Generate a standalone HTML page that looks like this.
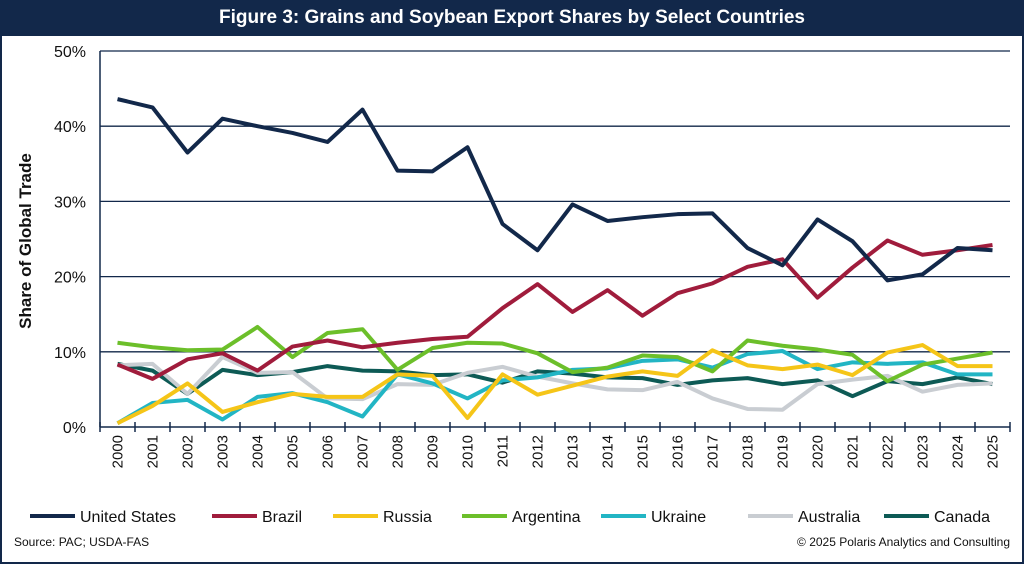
<!DOCTYPE html>
<html><head><meta charset="utf-8"><style>
body{margin:0;width:1024px;height:564px;overflow:hidden;background:#fff;font-family:"Liberation Sans",Arial,sans-serif}
#frame{position:absolute;left:0;top:0;width:1020px;height:560px;border:2px solid #12284a}
#title{position:absolute;left:0;top:0;width:1024px;height:36px;background:#12284a;color:#fff;font-weight:bold;font-size:19px;text-align:center;line-height:36px}
.foot{position:absolute;top:535px;font-size:12px;color:#111}
</style></head><body>
<div id="frame"></div>
<div id="title">Figure 3: Grains and Soybean Export Shares by Select Countries</div>
<svg id="chart" width="1024" height="564" style="position:absolute;left:0;top:0"></svg>
<div class="foot" style="left:14px">Source: PAC; USDA-FAS</div>
<div class="foot" style="right:14px">© 2025 Polaris Analytics and Consulting</div>
<script>
const years=[2000,2001,2002,2003,2004,2005,2006,2007,2008,2009,2010,2011,2012,2013,2014,2015,2016,2017,2018,2019,2020,2021,2022,2023,2024,2025];
const yTicks=[0,10,20,30,40,50];
const seriesNames=["United States","Brazil","Russia","Argentina","Ukraine","Australia","Canada"];
const seriesColors=["#12284a","#a01c3c","#f5c518","#6cbf2a","#22b5c4","#c9cdd2","#0d5a55"];
const usValues=[43.6,42.5,36.5,41,40,39.1,37.9,42.2,34.1,34,37.2,27,23.5,29.6,27.4,27.9,28.3,28.4,23.8,21.5,27.6,24.7,19.5,20.3,23.8,23.5];
const brazilValues=[8.3,6.4,9,9.8,7.5,10.7,11.5,10.6,11.2,11.7,12,15.8,19,15.3,18.2,14.8,17.8,19.1,21.3,22.3,17.2,21.2,24.8,22.9,23.5,24.2];
const russiaValues=[0.5,2.8,5.8,2,3.3,4.4,4,4,7,6.8,1.2,7,4.3,5.5,6.7,7.4,6.8,10.2,8.2,7.7,8.3,6.9,9.9,10.9,8.1,8.1];
const argentinaValues=[11.2,10.6,10.2,10.3,13.3,9.3,12.5,13,7.6,10.5,11.2,11.1,9.8,7.3,7.9,9.5,9.3,7.4,11.5,10.8,10.3,9.6,6.1,8.3,9.1,9.9];
const ukraineValues=[0.5,3.2,3.6,1,4,4.5,3.3,1.4,7,5.8,3.8,6.2,6.6,7.6,7.8,8.8,9.0,7.9,9.7,10.1,7.7,8.6,8.4,8.6,7.0,7.0];
const australiaValues=[8.2,8.4,4.4,9.3,7.2,7.3,3.8,3.7,5.7,5.6,7.2,8.0,6.7,5.8,5.0,4.9,6.0,3.8,2.4,2.3,5.7,6.3,6.8,4.7,5.6,5.8];
const canadaValues=[8.4,7.5,4.4,7.6,6.9,7.3,8.1,7.5,7.4,6.9,7.0,5.9,7.4,7.1,6.6,6.5,5.6,6.2,6.5,5.7,6.2,4.1,6.1,5.7,6.6,5.7];
const allSeries=[usValues,brazilValues,russiaValues,argentinaValues,ukraineValues,australiaValues,canadaValues];

const NS="http://www.w3.org/2000/svg";
const svg=document.getElementById('chart');
const L=100,R=1010,T=51,B=427;
const step=(R-L)/years.length;
const x=i=>L+step*(i+0.5);
const y=v=>B-(v/50)*(B-T);
function mk(tag,attrs){const e=document.createElementNS(NS,tag);for(const k in attrs)e.setAttribute(k,attrs[k]);svg.appendChild(e);return e;}
yTicks.forEach(t=>{
  if(t>0){const g=mk('line',{x1:L,x2:R,y1:y(t),y2:y(t),stroke:'#12284a','stroke-width':1.3});
  
  }
  const tx=mk('text',{x:L-14,y:y(t)+6,'text-anchor':'end','font-size':16,fill:'#111'});
  tx.textContent=t+'%';
  
  
});
const ax=mk('line',{x1:L,x2:L,y1:T,y2:B,stroke:'#12284a','stroke-width':1.5});


const xa=mk('line',{x1:L,x2:R,y1:B,y2:B,stroke:'#12284a','stroke-width':1.5});


for(let i=0;i<=years.length;i++){const tk=mk('line',{x1:L+step*i,x2:L+step*i,y1:B-5,y2:B+5,stroke:'#12284a','stroke-width':1.5});

}
years.forEach((yr,i)=>{const tx=mk('text',{x:0,y:0,'font-size':15,fill:'#111','text-anchor':'end',transform:`translate(${x(i)+5},${B+8}) rotate(-90)`});
tx.textContent=yr;

});
const at=mk('text',{x:0,y:0,'font-size':17,'font-weight':'bold',fill:'#111','text-anchor':'middle',transform:`translate(31,${(T+B)/2+2}) rotate(-90)`});
at.textContent='Share of Global Trade';


for(let s=allSeries.length-1;s>=0;s--){
  const pts=allSeries[s].map((v,i)=>x(i)+','+y(v)).join(' ');
  const pl=mk('polyline',{points:pts,fill:'none',stroke:seriesColors[s],'stroke-width':4,'stroke-linejoin':'round'});
  
  
}
const legX=[30,212,333,462,601,748,884];
seriesNames.forEach((n,i)=>{
  const ln=mk('line',{x1:legX[i],x2:legX[i]+45,y1:516,y2:516,stroke:seriesColors[i],'stroke-width':4});
  
  
  const tx=mk('text',{x:legX[i]+50,y:522,'font-size':16,fill:'#111'});
  tx.textContent=n;
  
  
});
</script>
</body></html>
